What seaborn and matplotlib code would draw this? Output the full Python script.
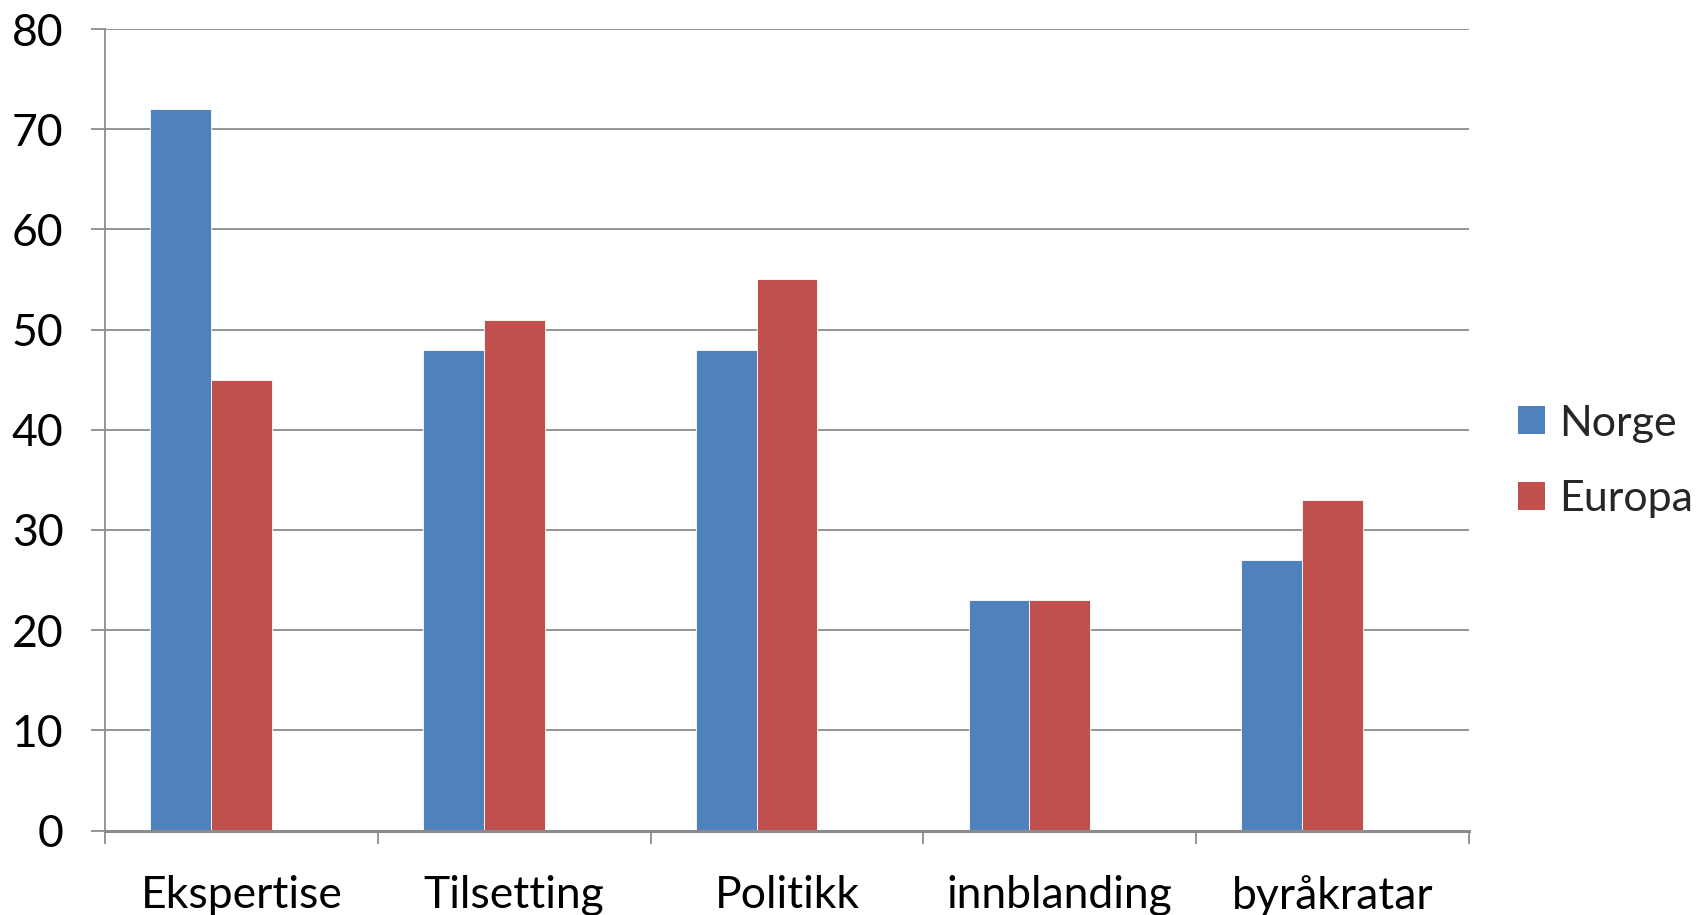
import numpy as np
import pandas as pd
import matplotlib
matplotlib.use("Agg")
import matplotlib.pyplot as plt
from matplotlib.patches import Patch
import seaborn as sns

categories = ["Ekspertise", "Tilsetting", "Politikk", "innblanding", "byråkratar"]
norge = [72, 48, 48, 23, 27]
europa = [45, 51, 55, 23, 33]
series = ["Norge", "Europa", ""]
colors = ["#4F81BD", "#C0504D", "#9BBB59"]
yticks = [0, 10, 20, 30, 40, 50, 60, 70, 80]

# long-form table; the third (empty) series keeps the Excel-style slot layout
rows = []
for c, n, e in zip(categories, norge, europa):
    rows.append((c, "Norge", n))
    rows.append((c, "Europa", e))
    rows.append((c, "", np.nan))
df = pd.DataFrame(rows, columns=["kategori", "serie", "verdi"])

sns.set_theme(style="white")
plt.rcParams["font.family"] = ["Lato", "DejaVu Sans"]

fig = plt.figure(figsize=(17, 9.15), dpi=100)
ax = fig.add_axes([0.0618, 0.0923, 0.8022, 0.8760])

sns.barplot(data=df, x="kategori", y="verdi", hue="serie", hue_order=series,
            order=categories, palette=colors, width=0.667, gap=0,
            errorbar=None, legend=False, ax=ax,
            edgecolor="white", linewidth=0.6, saturation=1)

grid_c = "#8C8C8C"
ax.set_ylim(0, 80)
ax.set_xlim(-0.5, len(categories) - 0.5)
ax.set_yticks(yticks)
ax.set_yticklabels([str(v) for v in yticks])
ax.yaxis.grid(True, color=grid_c, linewidth=1.3)
ax.set_axisbelow(True)
ax.set_xlabel("")
ax.set_ylabel("")

for s in ["top", "right"]:
    ax.spines[s].set_visible(False)
ax.spines["left"].set_color(grid_c)
ax.spines["left"].set_linewidth(1.3)
ax.spines["bottom"].set_color(grid_c)
ax.spines["bottom"].set_linewidth(2.2)

ax.tick_params(axis="y", length=10, width=1.3, color=grid_c, pad=20,
               labelsize=32, labelcolor="black", left=True)
ax.set_xticks(range(len(categories)))
ax.set_xticklabels(categories)
ax.set_xticks(np.arange(-0.5, len(categories)), minor=True)
ax.tick_params(axis="x", which="major", length=0, pad=32, labelsize=32,
               labelcolor="black")
ax.tick_params(axis="x", which="minor", length=9.5, width=1.3, color=grid_c,
               bottom=True)

handles = [Patch(facecolor=colors[0], edgecolor="none"),
           Patch(facecolor=colors[1], edgecolor="none")]
fig.legend(handles, series[:2], loc="center left",
           bbox_to_anchor=(0.893, 0.4956), frameon=False, fontsize=31,
           handlelength=0.62, handleheight=0.62, handletextpad=0.33,
           labelspacing=0.88, borderpad=0, borderaxespad=0)

fig.savefig("out.png", dpi=100)
